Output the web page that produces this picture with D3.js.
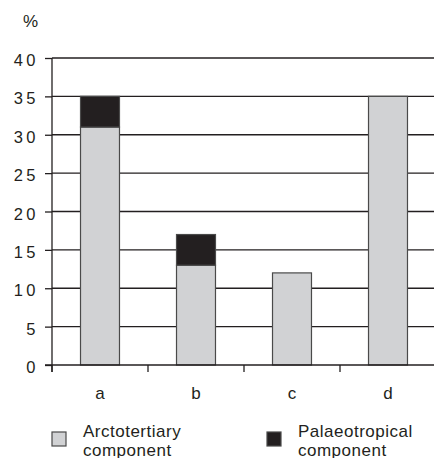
<!DOCTYPE html>
<html>
<head>
<meta charset="utf-8">
<script src="https://cdn.jsdelivr.net/npm/d3@7"></script>
<style>
  html, body { margin: 0; padding: 0; background: #fff; }
  svg { display: block; font-family: "Liberation Sans", Arial, sans-serif; }
</style>
</head>
<body>
<svg id="chart" width="434" height="458"></svg>
<script>
const categories = ["a", "b", "c", "d"];
const arctotertiary = [31, 13, 12, 35];
const palaeotropical = [4, 4, 0, 0];
const yTicks = [0, 5, 10, 15, 20, 25, 30, 35, 40];
const seriesNames = ["Arctotertiary component", "Palaeotropical component"];
const seriesColors = ["#d1d2d4", "#231f20"];

const svg = d3.select("#chart");
const ink = "#231f20";

const x = d3.scaleBand().domain(categories).range([52, 436]).paddingInner(0.594).paddingOuter(0.297);
const y = d3.scaleLinear().domain([0, 40]).range([365, 58]);

// gridlines
svg.append("g").selectAll("line").data(yTicks.filter(d => d > 0)).join("line")
  .attr("x1", 52).attr("x2", 434)
  .attr("y1", d => y(d)).attr("y2", d => y(d))
  .attr("stroke", ink).attr("stroke-width", 1.3);

// stacked data
const rows = categories.map((c, i) => ({ cat: c, arcto: arctotertiary[i], palaeo: palaeotropical[i] }));
const stack = d3.stack().keys(["arcto", "palaeo"])(rows);

svg.append("g").selectAll("g").data(stack).join("g")
  .attr("fill", (d, i) => seriesColors[i])
  .selectAll("rect").data(d => d.filter(p => p[1] - p[0] > 0)).join("rect")
  .attr("x", d => x(d.data.cat))
  .attr("width", x.bandwidth())
  .attr("y", d => y(d[1]))
  .attr("height", d => y(d[0]) - y(d[1]))
  .attr("stroke", "#4a4a4a")
  .attr("stroke-width", 1.2);

// y axis
const yAxis = d3.axisLeft(y).tickValues(yTicks).tickSize(7).tickPadding(9).tickSizeOuter(0);
const gy = svg.append("g").attr("transform", "translate(52,0)").call(yAxis);
gy.select(".domain").attr("stroke", ink).attr("stroke-width", 1.3).attr("d", `M0,${y(40)}V${y(0) + 7}`);
gy.selectAll(".tick line").attr("stroke", ink).attr("stroke-width", 1.3);
gy.selectAll(".tick text").attr("fill", ink).style("font-size", "16.5px").style("letter-spacing", "3.5px")
  .attr("font-family", "Liberation Sans, Arial, sans-serif").attr("dy", "0.46em").attr("dx", "3px");

// x axis
const xAxis = d3.axisBottom(x).tickSize(0).tickPadding(22);
const gx = svg.append("g").attr("transform", `translate(0,${y(0)})`).call(xAxis);
gx.select(".domain").attr("stroke", ink).attr("stroke-width", 1.3).attr("d", "M45,0H434");
gx.selectAll(".tick text").attr("fill", ink).style("font-size", "17px")
  .attr("font-family", "Liberation Sans, Arial, sans-serif");
// boundary ticks between categories
svg.append("g").selectAll("line").data(categories).join("line")
  .attr("x1", c => x(c) - x.step() * x.paddingOuter())
  .attr("x2", c => x(c) - x.step() * x.paddingOuter())
  .attr("y1", y(0)).attr("y2", y(0) + 7)
  .attr("stroke", ink).attr("stroke-width", 1.3);

// % label
svg.append("text").attr("x", 23).attr("y", 27).text("%").attr("fill", ink).style("font-size", "17px");

// legend
const legendX = [52, 267];
const lg = svg.append("g").selectAll("g").data(seriesNames).join("g")
  .attr("transform", (d, i) => `translate(${legendX[i]},425)`);
lg.append("rect").attr("y", 7).attr("width", 14).attr("height", 14)
  .attr("fill", (d, i) => seriesColors[i]).attr("stroke", "#4a4a4a").attr("stroke-width", 1.2);
lg.append("text").attr("x", 31).attr("y", 11.5).attr("fill", ink)
  .style("font-size", "17px").style("letter-spacing", "0.5px")
  .selectAll("tspan").data(d => { const p = d.split(" "); return [p[0], p.slice(1).join(" ")]; })
  .join("tspan").attr("x", 31).attr("dy", (d, i) => i === 0 ? 0 : 19.5).text(d => d);
</script>
</body>
</html>
